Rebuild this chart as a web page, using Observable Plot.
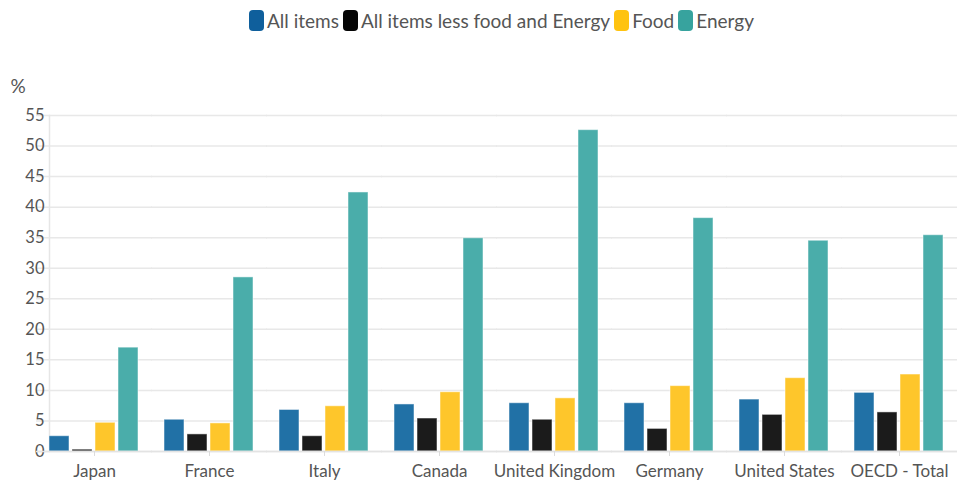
<!DOCTYPE html>
<html><head><meta charset="utf-8">
<script src="https://cdn.jsdelivr.net/npm/d3@7"></script>
<script src="https://cdn.jsdelivr.net/npm/@observablehq/plot@0.6"></script>
<style>
body{margin:0;background:#fff;font-family:Lato,"Noto Sans",sans-serif;}
#legend{height:40px;display:flex;justify-content:center;align-items:center;font-size:19px;color:#555;padding-left:45px;box-sizing:border-box;width:958px}
.item{display:flex;align-items:center;margin:0 2px}
.sw{width:15px;height:21px;border-radius:4px;margin-right:3px;display:inline-block}
</style></head><body>
<div id="legend"></div><div id="chart"></div>
<script>
const countries = ["Japan","France","Italy","Canada","United Kingdom","Germany","United States","OECD - Total"];
const seriesNames = ["All items","All items less food and Energy","Food","Energy"];
const seriesColors = ["#2171a6","#1b1b1b","#fec62b","#4aadaa"];
const legendColors = ["#0f5f9c","#050505","#ffc30f","#37a39e"];
const allItems   = [2.5, 5.2, 6.8, 7.7, 7.9, 7.9, 8.5, 9.6];
const core       = [0.3, 2.8, 2.5, 5.4, 5.2, 3.7, 6.0, 6.4];
const food       = [4.7, 4.6, 7.4, 9.7, 8.7, 10.7, 12.0, 12.6];
const energy     = [17.0, 28.5, 42.4, 34.9, 52.6, 38.2, 34.5, 35.4];
const yTicks = [0,5,10,15,20,25,30,35,40,45,50,55];

const seriesValues = [allItems, core, food, energy];
const data = [];
countries.forEach((c, i) => seriesNames.forEach((s, j) => data.push({country: c, series: s, value: seriesValues[j][i]})));

const leg = document.getElementById("legend");
seriesNames.forEach((s, j) => {
  const it = document.createElement("span"); it.className = "item";
  it.innerHTML = `<span class="sw" style="background:${legendColors[j]}"></span>${s}`;
  leg.appendChild(it);
});

const chart = Plot.plot({
  width: 958, height: 445,
  marginLeft: 35, marginRight: 0, marginTop: 75, marginBottom: 34,
  style: {fontFamily: "Lato, 'Noto Sans', sans-serif", fontSize: "16.5px", color: "#555", background: "#fff"},
  fx: {domain: countries, paddingInner: 0.22, paddingOuter: 0.11, label: null},
  x: {domain: seriesNames, paddingInner: 0.13, paddingOuter: 0, axis: null},
  y: {domain: [0, 55], ticks: yTicks, label: null},
  color: {domain: seriesNames, range: seriesColors},
  marks: [
    Plot.gridY(yTicks, {stroke: "#e8e8e8", strokeOpacity: 1, strokeWidth: 1.5, insetLeft: -13, insetRight: -13}),
    Plot.axisY(yTicks, {tickSize: 0, tickPadding: 5, fill: "#555", label: null}),
    Plot.frame({anchor: "left", facet: "super", stroke: "#e6e6e6", strokeWidth: 1.5}),
    Plot.text(["%"], {frameAnchor: "top-left", dx: -39, dy: -36, fill: "#555", fontSize: 19, facet: "super"}),
    Plot.barY(data, {fx: "country", x: "series", y: "value", fill: "series", stroke: "#ffffff", strokeOpacity: 0.5, strokeWidth: 1}),
    Plot.ruleY([0], {stroke: "#e3e3e3", strokeWidth: 1.5, insetLeft: -13, insetRight: -13}),
    Plot.axisFx({anchor: "bottom", tickSize: 5, stroke: "#dcdcdc", tickPadding: 8, fill: "#555", fontSize: 17, label: null})
  ]
});
document.getElementById("chart").appendChild(chart);
</script>
</body></html>
